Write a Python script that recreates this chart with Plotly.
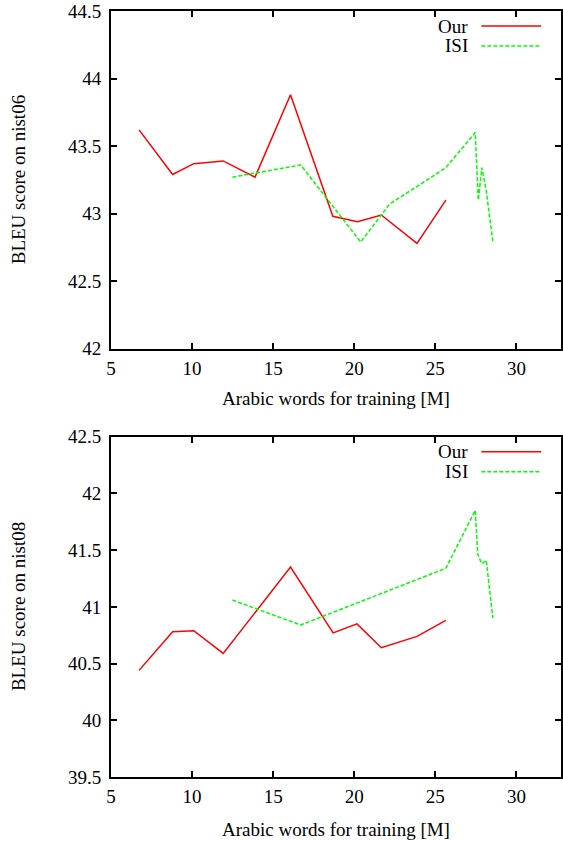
import plotly.graph_objects as go

# ---------------- data ----------------
our_x = [6.73, 8.80, 10.10, 11.92, 13.88, 16.07, 18.68, 20.20, 21.67, 23.87, 25.65]
our_nist06 = [43.62, 43.29, 43.37, 43.39, 43.27, 43.88, 42.98, 42.94, 42.99, 42.78, 43.10]

our_x08 = [6.73, 8.80, 10.10, 11.92, 16.07, 18.70, 20.17, 21.67, 23.87, 25.65]
our_nist08 = [40.44, 40.78, 40.79, 40.59, 41.35, 40.77, 40.85, 40.64, 40.74, 40.88]

isi_x = [12.49, 16.70, 20.40, 22.18, 25.65, 27.46, 27.65, 27.87, 28.14, 28.55]
isi_nist06 = [43.27, 43.36, 42.79, 43.07, 43.34, 43.60, 43.10, 43.34, 43.17, 42.79]

isi_x08 = [12.49, 16.70, 25.65, 27.46, 27.62, 27.87, 28.14, 28.55]
isi_nist08 = [41.06, 40.84, 41.34, 41.85, 41.46, 41.38, 41.41, 40.90]

x_ticks = [5, 10, 15, 20, 25, 30]
x_ticktext = ["5", "10", "15", "20", "25", "30"]
y06_ticks = [42, 42.5, 43, 43.5, 44, 44.5]
y06_ticktext = ["42", "42.5", "43", "43.5", "44", "44.5"]
y08_ticks = [39.5, 40, 40.5, 41, 41.5, 42, 42.5]
y08_ticktext = ["39.5", "40", "40.5", "41", "41.5", "42", "42.5"]

series_names = ["Our", "ISI"]
x_title = "Arabic words for training [M]"
y_titles = ["BLEU score on nist06", "BLEU score on nist08"]

# ---------------- layout helpers ----------------
W, H = 563, 841
ML, MR, MT, MB = 111, 0, 11, 64
PW = W - ML - MR
PH = H - MT - MB

def px(x):
    return (x - ML) / PW

def py(y):
    return (H - MB - y) / PH

FONT = "Liberation Serif, Times New Roman, serif"
RED = "#ff0000"
GREEN = "#00ff00"

fig = go.Figure()

fig.add_trace(go.Scatter(x=our_x, y=our_nist06, mode="lines", name=series_names[0],
                         line=dict(color=RED, width=1.5), xaxis="x", yaxis="y", showlegend=False))
fig.add_trace(go.Scatter(x=isi_x, y=isi_nist06, mode="lines", name=series_names[1],
                         line=dict(color=GREEN, width=1.5, dash="4px,2px"), xaxis="x", yaxis="y",
                         showlegend=False))
fig.add_trace(go.Scatter(x=our_x08, y=our_nist08, mode="lines", name=series_names[0],
                         line=dict(color=RED, width=1.5), xaxis="x2", yaxis="y2", showlegend=False))
fig.add_trace(go.Scatter(x=isi_x08, y=isi_nist08, mode="lines", name=series_names[1],
                         line=dict(color=GREEN, width=1.5, dash="4px,2px"), xaxis="x2", yaxis="y2",
                         showlegend=False))

axis_common = dict(showline=True, linecolor="black", linewidth=2, mirror="allticks",
                   ticks="inside", ticklen=6, tickwidth=1.5, tickcolor="black",
                   showgrid=False, zeroline=False,
                   tickfont=dict(family=FONT, size=19, color="black"))

top_dom = [py(348.7), 1.0]
bot_dom = [0.0, py(436.7)]

fig.update_layout(
    width=W, height=H,
    margin=dict(l=ML, r=MR, t=MT, b=MB),
    paper_bgcolor="white", plot_bgcolor="white",
    showlegend=False,
    xaxis=dict(range=[5, 32.75], tickvals=x_ticks, ticktext=x_ticktext, anchor="y",
               ticklabelstandoff=1, **axis_common),
    yaxis=dict(range=[42, 44.5], tickvals=y06_ticks, ticktext=y06_ticktext, domain=top_dom,
               anchor="x", ticklabelstandoff=4, **axis_common),
    xaxis2=dict(range=[5, 32.75], tickvals=x_ticks, ticktext=x_ticktext, anchor="y2",
                ticklabelstandoff=1, **axis_common),
    yaxis2=dict(range=[39.5, 42.5], tickvals=y08_ticks, ticktext=y08_ticktext, domain=bot_dom,
                anchor="x2", ticklabelstandoff=4, **axis_common),
)

tfont = dict(family=FONT, size=19, color="black")
annotations = []
shapes = []
for top_px, ytitle, xt_y in [(11, y_titles[0], 398), (436.7, y_titles[1], 829)]:
    bottom_px = 348.7 if top_px == 11 else 776.7
    annotations.append(dict(text=ytitle, xref="paper", yref="paper", x=px(18),
                            y=py((top_px + bottom_px) / 2), xanchor="center", yanchor="middle",
                            textangle=-90, showarrow=False, font=tfont))
    annotations.append(dict(text=x_title, xref="paper", yref="paper", x=px(337.5),
                            y=py(xt_y), xanchor="center", yanchor="middle",
                            showarrow=False, font=tfont))
    # legend
    for i, (name, col, dash) in enumerate([(series_names[0], RED, "solid"),
                                           (series_names[1], GREEN, "dash")]):
        ly = top_px + 15 + 20 * i
        annotations.append(dict(text=name, xref="paper", yref="paper", x=px(472), y=py(ly),
                                xanchor="right", yanchor="middle", showarrow=False, font=tfont))
        shapes.append(dict(type="line", xref="paper", yref="paper", x0=px(483), x1=px(543),
                           y0=py(ly), y1=py(ly),
                           line=dict(color=col, width=1.5,
                                     dash="solid" if dash == "solid" else "4px,2px")))

fig.update_layout(annotations=annotations, shapes=shapes)

fig.write_html("out.html", config={"displayModeBar": False},
               post_script="document.body.style.margin='0';document.body.style.overflow='hidden';")
